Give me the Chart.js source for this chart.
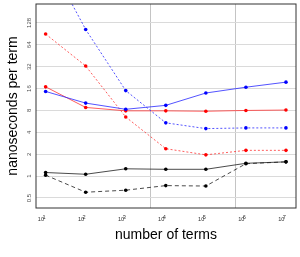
<!DOCTYPE html>
<html>
<head>
<meta charset="utf-8">
<script src="https://cdn.jsdelivr.net/npm/chart.js"></script>
<style>
  body { margin: 0; background: #fff; }
</style>
</head>
<body>
<canvas id="myChart" width="300" height="257"></canvas>
<script>
'use strict'

// data
const terms = [10, 100, 1000, 10000, 100000, 1000000, 10000000];
const termExponents = ['1', '2', '3', '4', '5', '6', '7'];
const yTicks = [0.5, 1, 2, 4, 8, 16, 32, 64, 128];

const blueSolid = [14.6, 10.1, 8.3, 9.4, 13.9, 16.7, 19.6];
const blueDotted = [1100, 104, 15.0, 5.4, 4.5, 4.6, 4.6];
const redSolid = [16.9, 8.8, 7.9, 7.9, 7.8, 8.0, 8.1];
const redDotted = [90, 32.7, 6.5, 2.38, 1.96, 2.26, 2.26];
const blackSolid = [1.12, 1.06, 1.26, 1.24, 1.24, 1.50, 1.57];
const blackDashed = [1.03, 0.60, 0.64, 0.74, 0.73, 1.48, 1.57];

// the two odd vertical grid lines of the original
const xGridLines = [4236, 540000];

const ctx = document.getElementById('myChart').getContext('2d');

function points(values) {
    return terms.map(function (t, i) { return { x: t, y: values[i] }; });
}

function series(values, line, dot, dash) {
    return {
        data: points(values),
        borderColor: line,
        backgroundColor: dot,
        pointBackgroundColor: dot,
        pointBorderColor: dot,
        pointRadius: 1.8,
        pointBorderWidth: 0,
        borderWidth: 1,
        borderDash: dash,
        tension: 0
    };
}

// dark frame round the plot
const frame = {
    id: 'frame',
    afterDraw(chart) {
        const a = chart.chartArea;
        const c = chart.ctx;
        c.save();
        c.strokeStyle = '#333333';
        c.lineWidth = 1;
        c.strokeRect(a.left, a.top, a.right - a.left, a.bottom - a.top);
        c.restore();
    }
};

const myChart = new Chart(ctx, {
    type: 'line',
    data: {
        datasets: [
            series(blueSolid, 'rgba(40,40,255,0.8)', '#0000ff', []),
            series(blueDotted, 'rgba(40,40,255,0.8)', '#0000ff', [2, 2]),
            series(redSolid, 'rgba(255,40,40,0.75)', '#ff0000', []),
            series(redDotted, 'rgba(255,40,40,0.75)', '#ff0000', [2, 2]),
            series(blackSolid, 'rgba(30,30,30,0.8)', '#000000', []),
            series(blackDashed, 'rgba(30,30,30,0.8)', '#000000', [4, 3])
        ]
    },
    options: {
        responsive: false,
        animation: false,
        layout: { padding: { top: 1.5, right: 2.3, left: 0, bottom: 0 } },
        plugins: {
            legend: { display: false },
            tooltip: { enabled: false }
        },
        scales: {
            x: {
                type: 'logarithmic',
                min: 5.75,
                max: 17800000,
                afterBuildTicks: function (scale) {
                    scale.ticks = terms.concat(xGridLines).sort(function (a, b) { return a - b; })
                        .map(function (v) { return { value: v }; });
                },
                afterFit: function (scale) {
                    scale.height = 49;
                    scale.paddingLeft = 0;
                    scale.paddingRight = 0;
                },
                grid: {
                    drawTicks: false,
                    color: function (c) {
                        return c.tick && xGridLines.includes(c.tick.value) ? '#c4c4c4' : 'rgba(0,0,0,0)';
                    }
                },
                border: { display: false },
                ticks: {
                    autoSkip: false,
                    maxRotation: 0,
                    align: 'end',
                    padding: 8.7,
                    color: '#333333',
                    font: { family: 'Liberation Sans', size: 5.6, lineHeight: 0.3 },
                    callback: function (value) {
                        const i = terms.indexOf(value);
                        // exponent on a raised first line, "10" under it
                        return i >= 0 ? [termExponents[i], '10 '] : '';
                    }
                },
                title: {
                    display: true,
                    text: 'number of terms',
                    color: '#000000',
                    font: { family: 'Liberation Sans', size: 14 },
                    padding: { top: 0, bottom: 13.6 }
                }
            },
            y: {
                type: 'logarithmic',
                min: 0.364,
                max: 233,
                afterBuildTicks: function (scale) {
                    scale.ticks = yTicks.map(function (v) { return { value: v }; });
                },
                afterFit: function (scale) {
                    scale.width = 36;
                    scale.paddingTop = 0;
                    scale.paddingBottom = 0;
                },
                grid: {
                    drawTicks: false,
                    color: '#dadada'
                },
                border: { display: false },
                ticks: {
                    autoSkip: false,
                    minRotation: 90,
                    maxRotation: 90,
                    crossAlign: 'center',
                    padding: 1.5,
                    color: '#4d4d4d',
                    font: { family: 'Liberation Sans', size: 6 },
                    callback: function (value) { return String(value); }
                },
                title: {
                    display: true,
                    text: 'nanoseconds per term',
                    color: '#000000',
                    font: { family: 'Liberation Sans', size: 14 },
                    padding: { top: 4.6, bottom: 0 }
                }
            }
        }
    },
    plugins: [frame]
});
</script>
</body>
</html>
